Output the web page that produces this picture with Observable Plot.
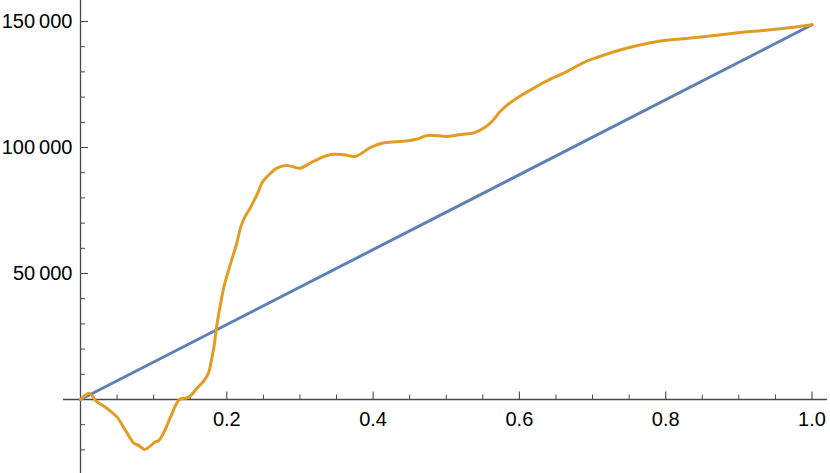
<!DOCTYPE html>
<html>
<head>
<meta charset="utf-8">
<script src="https://cdn.jsdelivr.net/npm/d3@7"></script>
<script src="https://cdn.jsdelivr.net/npm/@observablehq/plot@0.6"></script>
<style>
  html, body { margin: 0; padding: 0; background: #fff; }
  #chart svg { display: block; }
</style>
</head>
<body>
<div id="chart"></div>
<script>
// ---- data ----
const orangeX = [0, 0.006, 0.0114, 0.016, 0.0205, 0.030, 0.0387, 0.050, 0.0616, 0.0729, 0.080, 0.0876, 0.0935, 0.1017, 0.107, 0.114, 0.123, 0.130, 0.1354, 0.146, 0.1505, 0.1596, 0.169, 0.175, 0.178, 0.1824, 0.186, 0.1906, 0.196, 0.205, 0.2134, 0.219, 0.2234, 0.2326, 0.2417, 0.2486, 0.258, 0.269, 0.2818, 0.2964, 0.301, 0.319, 0.342, 0.360, 0.376, 0.397, 0.415, 0.442, 0.4606, 0.474, 0.5016, 0.520, 0.538, 0.552, 0.563, 0.575, 0.593, 0.6156, 0.634, 0.666, 0.6885, 0.7068, 0.7387, 0.7616, 0.789, 0.821, 0.8664, 0.912, 0.9576, 1.0];
const orangeY = [0, 1500, 2500, 1500, -400, -2300, -4100, -7000, -12300, -17300, -18300, -19800, -18900, -16900, -16300, -13000, -7000, -2400, 0, 700, 1500, 4600, 7500, 10500, 14200, 20800, 28700, 36600, 44600, 53800, 61800, 68400, 71700, 76300, 81600, 86200, 89300, 91900, 92900, 91900, 91800, 94600, 97200, 97100, 96500, 100100, 101900, 102500, 103400, 104800, 104400, 105200, 105800, 107800, 110500, 114700, 118900, 122900, 125900, 130300, 133800, 135800, 138800, 140500, 142100, 143100, 144400, 145900, 147100, 148700];
const blueX = [0, 1];
const blueY = [0, 148700];

const xMajorTicks = [0.2, 0.4, 0.6, 0.8, 1.0];
const xTickLabels = ["0.2", "0.4", "0.6", "0.8", "1.0"];
const xMinorTicks = [0.05, 0.1, 0.15, 0.25, 0.3, 0.35, 0.45, 0.5, 0.55, 0.65, 0.7, 0.75, 0.85, 0.9, 0.95];
const yMajorTicks = [50000, 100000, 150000];
const yTickLabels = ["50\u2009000", "100\u2009000", "150\u2009000"];
const yMinorTicks = [-20000, -10000, 10000, 20000, 30000, 40000, 60000, 70000, 80000, 90000, 110000, 120000, 130000, 140000];

// ---- layout helpers ----
const W = 830, H = 473;
const x0px = 80, xUnitPx = 731.5;
const y0px = 399, yPxPer1000 = 2.52;
const xDomain = [(0 - x0px) / xUnitPx, (W - x0px) / xUnitPx];
const yDomain = [(y0px - H) / yPxPer1000 * 1000, y0px / yPxPer1000 * 1000];
const pxX = p => p / xUnitPx;          // pixel length -> x units
const pxY = p => p / yPxPer1000 * 1000; // pixel length -> y units

const orange = orangeX.map((x, i) => ({x, y: orangeY[i]}));
const blue = blueX.map((x, i) => ({x, y: blueY[i]}));
const xMaj = xMajorTicks.map((v, i) => ({v, label: xTickLabels[i]}));
const yMaj = yMajorTicks.map((v, i) => ({v, label: yTickLabels[i]}));

const axisColor = "#4a4a4a";
const font = "'Liberation Sans', Arial, sans-serif";

const chart = Plot.plot({
  width: W,
  height: H,
  margin: 0,
  x: {domain: xDomain, range: [0, W], axis: null},
  y: {domain: yDomain, range: [H, 0], axis: null},
  style: {background: "#fff", fontFamily: font},
  marks: [
    // axes
    Plot.ruleY([0], {x1: (63 - x0px) / xUnitPx, x2: (827 - x0px) / xUnitPx, stroke: axisColor, strokeWidth: 1.3}),
    Plot.ruleX([0], {y1: yDomain[0], y2: yDomain[1], stroke: axisColor, strokeWidth: 1.3}),
    // x ticks
    Plot.ruleX(xMaj, {x: "v", y1: 0, y2: pxY(7.5), stroke: axisColor, strokeWidth: 1.1}),
    Plot.ruleX(xMinorTicks, {x: d => d, y1: 0, y2: pxY(4.5), stroke: axisColor, strokeWidth: 1}),
    // y ticks
    Plot.ruleY(yMaj, {y: "v", x1: 0, x2: pxX(8), stroke: axisColor, strokeWidth: 1.1}),
    Plot.ruleY(yMinorTicks, {y: d => d, x1: 0, x2: pxX(5), stroke: axisColor, strokeWidth: 1}),
    // tick labels
    Plot.text(xMaj, {x: "v", y: 0, text: "label", dy: 20, fontSize: 20, fill: "#000", textAnchor: "middle"}),
    Plot.text(yMaj, {x: 0, y: "v", text: "label", dx: -8, fontSize: 20, fill: "#000", textAnchor: "end"}),
    // series
    Plot.line(blue, {x: "x", y: "y", stroke: "#5E81B5", strokeWidth: 3}),
    Plot.line(orange, {x: "x", y: "y", stroke: "#E19C24", strokeWidth: 3, curve: "catmull-rom", strokeLinejoin: "round", strokeLinecap: "round"})
  ]
});
document.getElementById("chart").appendChild(chart);
</script>
</body>
</html>
